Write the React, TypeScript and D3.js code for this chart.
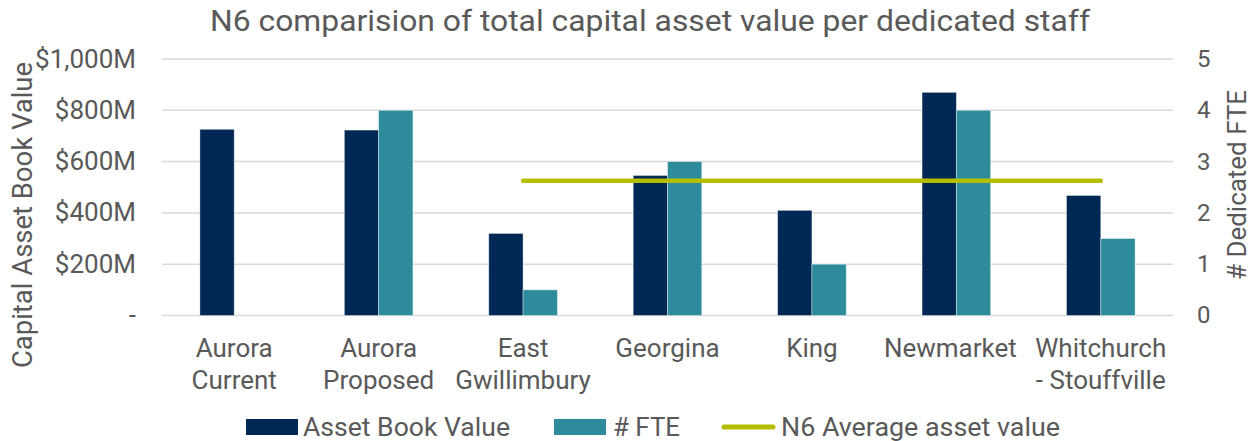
import React from "react";
import * as d3 from "d3";

const categories: string[][] = [
  ["Aurora", "Current"],
  ["Aurora", "Proposed"],
  ["East", "Gwillimbury"],
  ["Georgina"],
  ["King"],
  ["Newmarket"],
  ["Whitchurch", "- Stouffville"],
];
const assetBookValue: number[] = [726, 723, 320, 546, 410, 870, 468]; // $M
const fteValues: (number | null)[] = [null, 4, 0.5, 3, 1, 4, 1.5];
const averageAssetValue = 525; // $M, drawn from East Gwillimbury to Whitchurch
const avgStart = 2;
const avgEnd = 6;
const leftTicks = [0, 200, 400, 600, 800, 1000];
const rightTicks = [0, 1, 2, 3, 4, 5];

const W = 1253;
const H = 441;
const M = { left: 162, right: 1173, top: 59, bottom: 315.5 };
const FONT = "Roboto, 'Noto Sans', sans-serif";
const TXT = "#595959";
const NAVY = "#002855";
const TEAL = "#2e8b9c";
const LIME = "#b5bd00";

export default function App() {
  const x = d3
    .scaleBand<number>()
    .domain(categories.map((_, i) => i))
    .range([M.left, M.right]);
  const yL = d3.scaleLinear().domain([0, 1000]).range([M.bottom, M.top]);
  const yR = d3.scaleLinear().domain([0, 5]).range([M.bottom, M.top]);
  const bw = x.bandwidth();
  const barW = bw * 0.2375;
  const fmt = (v: number) => (v === 0 ? "-" : "$" + d3.format(",")(v) + "M");

  return (
    <svg
      width={W}
      height={H}
      style={{ position: "absolute", left: 0, top: 0, background: "#fff" }}
      fontFamily={FONT}
    >
      <text
        x={650}
        y={31}
        textAnchor="middle"
        fontSize={30}
        fill={TXT}
        textLength={880}
        lengthAdjust="spacingAndGlyphs"
      >
        N6 comparision of total capital asset value per dedicated staff
      </text>
      {leftTicks.map((t) => (
        <g key={"g" + t}>
          <line
            x1={M.left}
            x2={M.right}
            y1={yL(t)}
            y2={yL(t)}
            stroke="#d9d9d9"
            strokeWidth={1.5}
          />
          <text
            x={136}
            y={yL(t)}
            dy="0.33em"
            textAnchor="end"
            fontSize={26}
            fill={TXT}
          >
            {fmt(t)}
          </text>
        </g>
      ))}
      {rightTicks.map((t) => (
        <text
          key={"r" + t}
          x={1197}
          y={yR(t)}
          dy="0.33em"
          fontSize={24}
          fill={TXT}
        >
          {t}
        </text>
      ))}
      <text
        transform={`translate(32,215) rotate(-90)`}
        textAnchor="middle"
        fontSize={28}
        fill={TXT}
        textLength={306}
        lengthAdjust="spacingAndGlyphs"
      >
        Capital Asset Book Value
      </text>
      <text
        transform={`translate(1246,185) rotate(-90)`}
        textAnchor="middle"
        fontSize={25}
        fill={TXT}
        textLength={190}
        lengthAdjust="spacingAndGlyphs"
      >
        # Dedicated FTE
      </text>
      {assetBookValue.map((v, i) => {
        const c = (x(i) as number) + bw / 2;
        return (
          <rect
            key={"a" + i}
            x={c - barW}
            y={yL(v)}
            width={barW}
            height={M.bottom - yL(v)}
            fill={NAVY}
            stroke="#ffffff"
            strokeOpacity={0.5}
            strokeWidth={0.8}
          />
        );
      })}
      {fteValues.map((v, i) => {
        if (v == null) return null;
        const c = (x(i) as number) + bw / 2;
        return (
          <rect
            key={"f" + i}
            x={c}
            y={yR(v)}
            width={barW}
            height={M.bottom - yR(v)}
            fill={TEAL}
            stroke="#ffffff"
            strokeOpacity={0.5}
            strokeWidth={0.8}
          />
        );
      })}
      <line
        x1={(x(avgStart) as number) + bw / 2}
        x2={(x(avgEnd) as number) + bw / 2}
        y1={yL(averageAssetValue)}
        y2={yL(averageAssetValue)}
        stroke={LIME}
        strokeWidth={4.5}
        strokeLinecap="round"
      />
      {categories.map((lines, i) => {
        const c = (x(i) as number) + bw / 2 - (i === 5 ? 6 : 0);
        return (
          <text key={"x" + i} textAnchor="middle" fontSize={26} fill={TXT}>
            {lines.map((l, j) => (
              <tspan key={j} x={c} y={357 + j * 32}>
                {l}
              </tspan>
            ))}
          </text>
        );
      })}
      <g fontSize={26} fill={TXT}>
        <rect x={246} y={419} width={52} height={16} fill={NAVY} />
        <text x={303} y={436} textLength={207} lengthAdjust="spacingAndGlyphs">
          Asset Book Value
        </text>
        <rect x={554} y={419} width={52} height={16} fill={TEAL} />
        <text x={613} y={436} textLength={67} lengthAdjust="spacingAndGlyphs">
          # FTE
        </text>
        <line
          x1={724}
          x2={773}
          y1={427}
          y2={427}
          stroke={LIME}
          strokeWidth={5}
          strokeLinecap="round"
        />
        <text x={781} y={436} textLength={279} lengthAdjust="spacingAndGlyphs">
          N6 Average asset value
        </text>
      </g>
    </svg>
  );
}
